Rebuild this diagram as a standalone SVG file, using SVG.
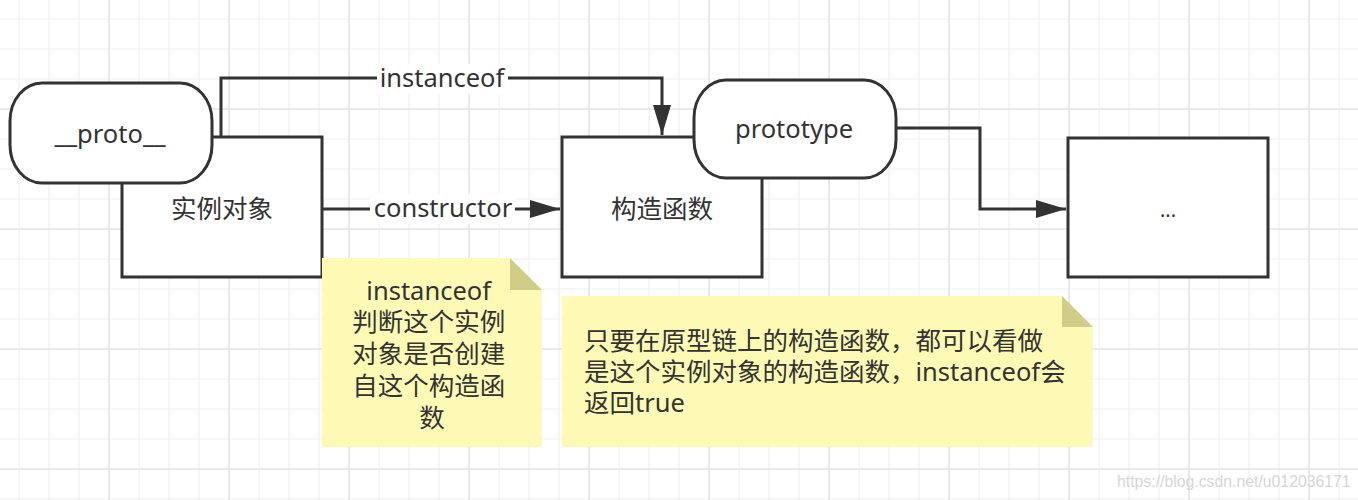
<svg xmlns="http://www.w3.org/2000/svg" width="1358" height="500" viewBox="0 0 1358 500">
<defs>
<pattern id="minor" x="4" y="4" width="30" height="30" patternUnits="userSpaceOnUse">
<path d="M15,0 V30 M0,15 H30" stroke="#f0f0f0" stroke-width="1.2" fill="none"/>
</pattern>
<pattern id="major" x="49" y="49" width="120" height="120" patternUnits="userSpaceOnUse">
<path d="M60,0 V120 M0,60 H120" stroke="#e6e6e6" stroke-width="1.6" fill="none"/>
</pattern>
<marker id="arrow" viewBox="0 0 30 18" refX="30" refY="9" markerWidth="30" markerHeight="18" markerUnits="userSpaceOnUse" orient="auto">
<path d="M0,0 L30,9 L0,18 Z" fill="#333"/>
</marker>
<style>
.node{fill:#fff;stroke:#333;stroke-width:3}
.edge{fill:none;stroke:#333;stroke-width:3}
.t{font-family:"Noto Sans","Noto Sans CJK SC",sans-serif;font-size:25.5px;fill:#333}
.c{text-anchor:middle}
.lbg{fill:#fff}
.note{fill:#fdfab5}
.fold{fill:#d0cd87}
</style>
</defs>
<rect width="1358" height="500" fill="#fff"/>
<rect width="1358" height="500" fill="url(#minor)"/>
<rect width="1358" height="500" fill="url(#major)"/>

<g id="connectors">
<path class="edge" d="M221,137 V78 H662 V135" marker-end="url(#arrow)"/>
<path class="edge" d="M322,209 H560" marker-end="url(#arrow)"/>
<path class="edge" d="M896,128 H980 V209 H1066" marker-end="url(#arrow)"/>
<rect class="lbg" x="377" y="64" width="131" height="30"/>
<text class="t c" x="442" y="87">instanceof</text>
<rect class="lbg" x="370" y="194" width="145" height="30"/>
<text class="t c" x="443" y="217">constructor</text>
</g>

<g id="instance">
<rect class="node" x="122" y="137" width="200" height="140"/>
<text class="t c" x="222" y="218">实例对象</text>
</g>
<g id="proto">
<rect class="node" x="10" y="83" width="202" height="100" rx="32" ry="38"/>
<text class="t c" x="110" y="143">__proto__</text>
</g>
<g id="ctor">
<rect class="node" x="562" y="137" width="200" height="140"/>
<text class="t c" x="662" y="218">构造函数</text>
</g>
<g id="prototype">
<rect class="node" x="694" y="80" width="202" height="98" rx="32" ry="38"/>
<text class="t c" x="794" y="138">prototype</text>
</g>
<g id="more">
<rect class="node" x="1068" y="138" width="200" height="139"/>
<text class="t c" x="1168" y="217" style="font-size:20px">...</text>
</g>

<g id="note1">
<path class="note" d="M322,258 H510 L542,290 V447 H322 Z"/>
<path class="fold" d="M510,258 V290 H542 Z"/>
<text class="t c">
<tspan x="432" y="300">instanceof</tspan>
<tspan x="432" y="331">判断这个实例</tspan>
<tspan x="432" y="363">对象是否创建</tspan>
<tspan x="432" y="395">自这个构造函</tspan>
<tspan x="432" y="427">数</tspan>
</text>
</g>
<g id="note2">
<path class="note" d="M562,296 H1062 L1093,327 V447 H562 Z"/>
<path class="fold" d="M1062,296 V327 H1093 Z"/>
<text class="t">
<tspan x="584" y="350">只要在原型链上的构造函数，都可以看做</tspan>
<tspan x="584" y="381">是这个实例对象的构造函数，instanceof会</tspan>
<tspan x="584" y="412">返回true</tspan>
</text>
</g>
<text x="1117" y="487" style="font-family:'Liberation Sans',sans-serif;font-size:15.8px;fill:#d6d6d6">https://blog.csdn.net/u012036171</text>
</svg>
